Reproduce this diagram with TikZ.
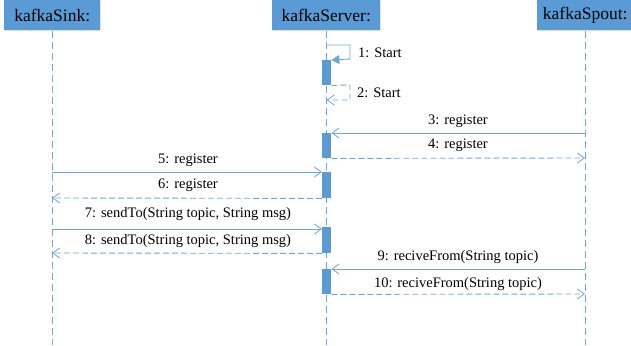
\documentclass[tikz,border=0pt]{standalone}
\usepackage{fontspec}
\setmainfont{Liberation Serif}
\newfontfamily\timesf{Liberation Serif}
\usetikzlibrary{arrows.meta}
\definecolor{uml}{HTML}{5B9BD5}
\definecolor{umlline}{HTML}{6FA6DA}
\tikzset{
  header/.style={draw=none,fill=uml,minimum height=30pt,inner sep=0pt,font=\timesf\fontsize{17.5}{20}\selectfont,anchor=north west},
  lifeline/.style={draw=umlline,line width=0.9pt,dash pattern=on 7pt off 4pt},
  bar/.style={fill=uml,draw=none,minimum width=9pt,inner sep=0pt,anchor=north west},
  msg/.style={draw=umlline,line width=0.9pt,-{Straight Barb[length=7pt,width=10pt,line width=0.8pt]}},
  ret/.style={msg,dash pattern=on 6pt off 3pt},
  self/.style={draw=umlline,line width=0.9pt,-{Triangle[length=8pt,width=9pt]}},
  lbl/.style={font=\timesf\fontsize{14.5}{16}\selectfont,inner sep=0pt},
  shadow/.style={fill=black!12,draw=none}
}
\begin{document}
\begin{tikzpicture}[x=1pt,y=-1pt]
\useasboundingbox (0,0) rectangle (631,345);
% headers
\fill[shadow] (5,1) rectangle (101,31.5);
\fill[shadow] (273,1) rectangle (381,31.5);
\fill[shadow] (538,1) rectangle (634,31.5);
\node[header,minimum width=96pt] (sink) at (4,0) {kafkaSink:};
\node[header,minimum width=108pt] (server) at (272,0) {kafkaServer:};
\node[header,minimum width=96pt] (spout) at (537,0) {kafkaSpout:};
% lifeline ends
\coordinate (sinkend) at (52,345);
\coordinate (serverend) at (326.5,345);
\coordinate (spoutend) at (585,345);
\coordinate (sinktop) at (52,31);
\coordinate (servertop) at (326.5,31);
\coordinate (spouttop) at (585,31);
\draw[lifeline] (sinktop) -- (sinkend);
\draw[lifeline] (servertop) -- (serverend);
\draw[lifeline] (spouttop) -- (spoutend);
% activation bars
\node[bar,minimum height=25pt] (b1) at (322,60) {};
\node[bar,minimum height=25pt] (b2) at (322,133) {};
\node[bar,minimum height=26pt] (b3) at (322,172) {};
\node[bar,minimum height=26pt] (b4) at (322,227) {};
\node[bar,minimum height=25pt] (b5) at (322,269) {};
% message 1 (self)
\coordinate (m1a) at (326.5,45);
\draw[self] (m1a) -- (350,45) -- (350,59) -- (b1.north east);
\node[lbl,anchor=west] (l1) at (358,53) {1: Start};
% message 2 (self return)
\coordinate (m2b) at (326.5,100);
\draw[ret] (b1.south east) -- (350,85) -- (350,100) -- (m2b);
\node[lbl,anchor=west] (l2) at (357,93) {2: Start};
% message 3
\coordinate (sp3) at (585,133);
\draw[msg] (sp3) -- (b2.north east);
\node[lbl] (l3) at (458,121) {3: register};
% message 4
\coordinate (sp4) at (585,158);
\draw[ret] (b2.south east) -- (sp4);
\node[lbl] (l4) at (458,145) {4: register};
% message 5
\coordinate (sk5) at (52,172);
\draw[msg] (sk5) -- (b3.north west);
\node[lbl] (l5) at (188,160) {5: register};
% message 6
\coordinate (sk6) at (52,198);
\draw[ret] (b3.south west) -- (sk6);
\node[lbl] (l6) at (188,185) {6: register};
% message 7
\coordinate (sk7) at (52,229);
\draw[msg] (sk7) -- (322,229);
\node[lbl] (l7) at (188,214) {7: sendTo(String topic, String msg)};
% message 8
\coordinate (sk8) at (52,253);
\draw[ret] (b4.south west) -- (sk8);
\node[lbl] (l8) at (188,241) {8: sendTo(String topic, String msg)};
% message 9
\coordinate (sp9) at (585,269);
\draw[msg] (sp9) -- (b5.north east);
\node[lbl] (l9) at (458,257) {9: reciveFrom(String topic)};
% message 10
\coordinate (sp10) at (585,294);
\draw[ret] (b5.south east) -- (sp10);
\node[lbl] (l10) at (458,284) {10: reciveFrom(String topic)};
\end{tikzpicture}
\end{document}
